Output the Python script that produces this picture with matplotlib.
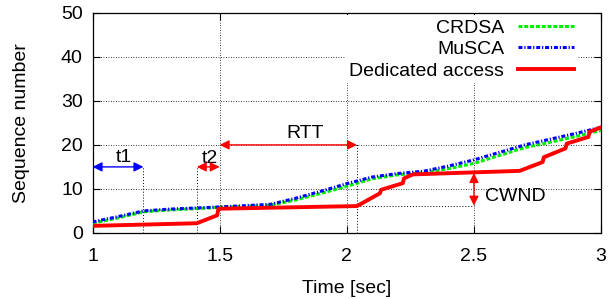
import numpy as np
import matplotlib
matplotlib.use("Agg")
import matplotlib.pyplot as plt

plt.rcParams['font.family'] = ['Liberation Sans', 'DejaVu Sans']
plt.rcParams['font.size'] = 14

# CRDSA curve (time in sec, sequence number)
crdsa_t = [1.0, 1.1, 1.2, 1.3, 1.5, 1.7, 1.8, 1.9, 2.0, 2.1, 2.2, 2.3, 2.4, 2.5, 2.6, 2.7, 2.8, 2.9, 3.0]
crdsa_s = [2.2, 3.4, 4.8, 5.2, 5.8, 6.3, 7.5, 9.0, 10.6, 12.3, 13.2, 13.7, 14.6, 15.8, 17.6, 19.4, 20.6, 21.9, 23.3]

# MuSCA curve
musca_t = [1.0, 1.1, 1.2, 1.3, 1.5, 1.7, 1.8, 1.9, 2.0, 2.1, 2.2, 2.3, 2.4, 2.5, 2.6, 2.7, 2.8, 2.9, 3.0]
musca_s = [2.5, 3.7, 5.0, 5.4, 5.9, 6.5, 7.9, 9.5, 11.2, 12.7, 13.5, 14.0, 15.2, 16.6, 18.3, 20.0, 21.3, 22.6, 24.0]

# Dedicated access curve
ded_t = [1.0, 1.41, 1.49, 1.495, 2.04, 2.13, 2.135, 2.22, 2.225, 2.26, 2.68, 2.77, 2.775, 2.86, 2.865, 2.95, 2.955, 3.0]
ded_s = [1.6, 2.2, 4.0, 5.5, 6.1, 9.0, 9.8, 11.3, 12.4, 13.3, 14.1, 16.1, 17.2, 19.2, 20.3, 21.8, 23.0, 24.0]

# annotation points
t1_start, t1_end, t_level = 1.0, 1.2, 15
t2_start, t2_end = 1.41, 1.5
rtt_start, rtt_end, rtt_level = 1.5, 2.04, 20
cwnd_x, cwnd_low, cwnd_high = 2.5, 6.2, 13.6

fig = plt.figure(figsize=(6.09, 2.99), dpi=100)
ax = fig.add_axes([0.152, 0.221, 0.835, 0.736])

ax.plot(crdsa_t, crdsa_s, color='#00ee00', lw=2.2, dashes=(1.3, 0.6), label='CRDSA', zorder=3)
ax.plot(musca_t, musca_s, color='#0000ff', lw=2.2, dashes=(1.3, 0.6, 0.4, 0.6), label='MuSCA', zorder=4)
ax.plot(ded_t, ded_s, color='#ff0000', lw=2.8, label='Dedicated access', zorder=5)

ax.set_xlim(1, 3)
ax.set_ylim(0, 50)
ax.set_xticks([1, 1.5, 2, 2.5, 3])
ax.set_xticklabels(['1', '1.5', '2', '2.5', '3'])
ax.set_yticks([0, 10, 20, 30, 40, 50])
ax.tick_params(direction='in', length=5, width=0.8, top=True, right=True)
ax.tick_params(axis='x', pad=11)
ax.tick_params(axis='y', pad=7)
ax.grid(True, color='black', linestyle=(0, (1, 2)), lw=0.6)
for s in ax.spines.values():
    s.set_linewidth(0.9)

ax.set_xlabel('Time [sec]', labelpad=11)
ax.set_ylabel('Sequence number', labelpad=22)

dot = dict(color='black', linestyle=(0, (1, 2)), lw=0.7, zorder=2)
# helper lines
ax.plot([t1_end, t1_end], [0, t_level], **dot)
ax.plot([t2_start, t2_start], [0, t_level], **dot)
ax.plot([rtt_end, rtt_end], [0, rtt_level + 0.5], **dot)
ax.plot([rtt_end, cwnd_x], [cwnd_low, cwnd_low], **dot)

def arrow(x0, y0, x1, y1, color):
    ax.annotate('', xy=(x1, y1), xytext=(x0, y0),
                arrowprops=dict(arrowstyle='<|-|>', color=color, lw=1.0,
                                mutation_scale=14, shrinkA=0, shrinkB=0),
                zorder=6)

arrow(t1_start, t_level, t1_end, t_level, '#0000ff')
arrow(t2_start, t_level, t2_end, t_level, '#ff0000')
arrow(rtt_start, rtt_level, rtt_end, rtt_level, '#ff0000')
arrow(cwnd_x, cwnd_low, cwnd_x, cwnd_high, '#ff0000')

ax.text(1.125, 15.3, 't1', ha='center', va='bottom')
ax.text(1.46, 15.0, 't2', ha='center', va='bottom')
ax.text(1.835, 20.6, 'RTT', ha='center', va='bottom')
ax.text(2.545, 8.3, 'CWND', ha='left', va='center')

leg = ax.legend(loc='upper right', bbox_to_anchor=(0.955, 0.99), markerfirst=False,
                handlelength=2.9, labelspacing=0.2, borderaxespad=0.0, borderpad=0.2,
                handletextpad=0.7, fancybox=False, framealpha=1,
                edgecolor='none', facecolor='white')
leg.set_zorder(7)

fig.savefig('out.png', dpi=100)
